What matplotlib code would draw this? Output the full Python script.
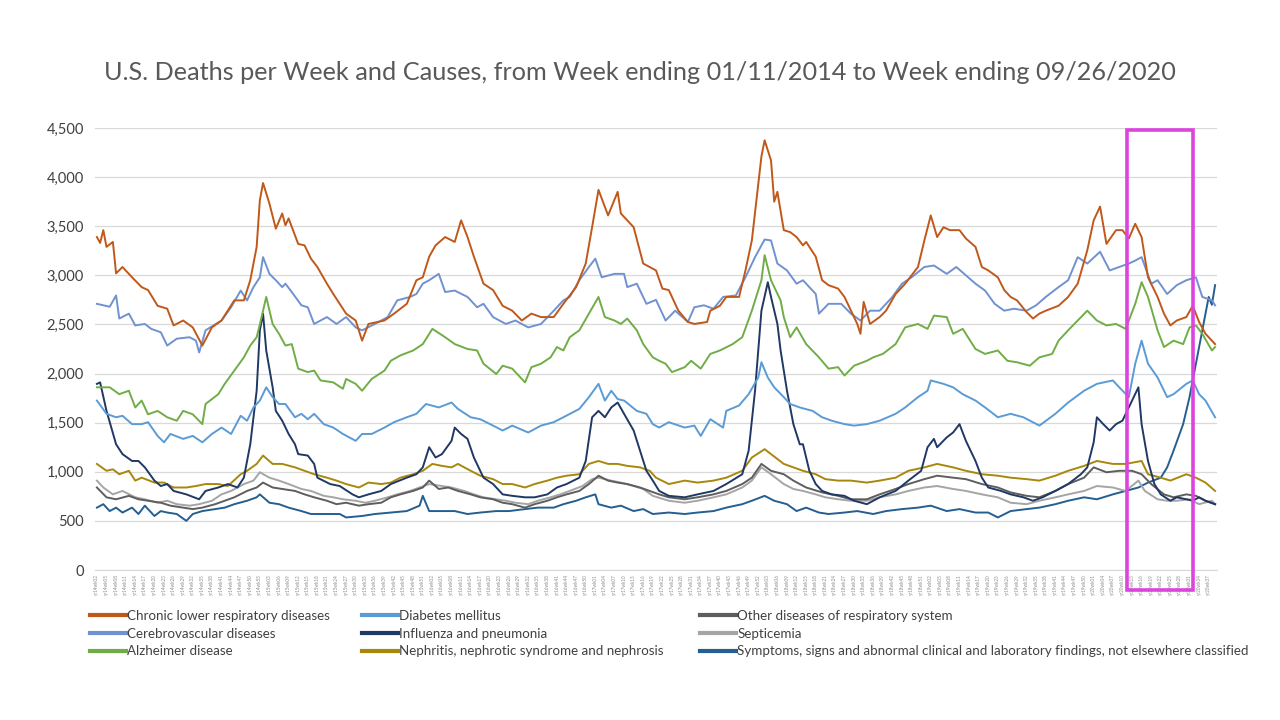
import matplotlib
matplotlib.use("Agg")
import matplotlib.pyplot as plt
from matplotlib.lines import Line2D
from matplotlib.patches import Rectangle
from matplotlib.ticker import MultipleLocator, StrMethodFormatter

plt.rcParams['font.family'] = ['Lato', 'DejaVu Sans']

# weekly category labels, MMWR weeks 2014wk02 .. 2020wk39
week_labels = []
for yr, first, last in [(14, 2, 53), (15, 1, 52), (16, 1, 52), (17, 1, 52),
                        (18, 1, 52), (19, 1, 52), (20, 1, 39)]:
    week_labels += ["yr%02dwk%02d" % (yr, w) for w in range(first, last + 1)]

# values: week index (0 = yr14wk02) and deaths
clrd_wk = [0, 1, 2, 3, 5, 6, 8, 11, 14, 16, 19, 22, 24, 27, 30, 33, 36, 39, 43, 46, 48, 50, 51, 52, 54, 56, 58, 59, 60, 63,
           65, 67, 69, 72, 74, 76, 78, 81, 83, 85, 90, 93, 97, 100, 102, 104, 106, 109, 112, 114, 116, 118, 121, 124, 127,
           130, 133, 136, 139, 143, 146, 150, 153, 155, 157, 160, 163, 164, 168, 171, 173, 175, 177, 179, 182, 185, 187,
           191, 192, 195, 197, 201, 203, 205, 208, 209, 211, 212, 213, 215, 217, 219, 221, 222, 225, 227, 229, 232, 234,
           237, 238, 239, 240, 242, 245, 247, 250, 253, 257, 259, 261, 263, 265, 267, 270, 272, 275, 277, 279, 282, 284,
           286, 288, 291, 293, 295, 297, 301, 304, 307, 310, 312, 314, 316, 319, 321, 323, 325, 327, 329, 332, 334, 336,
           338, 341, 343, 345, 347, 350]
clrd_val = [3390, 3330, 3460, 3290, 3340, 3020, 3085, 2980, 2880, 2850, 2690, 2660, 2490, 2540, 2470, 2285, 2470, 2540,
            2745, 2745, 2950, 3290, 3765, 3940, 3730, 3475, 3630, 3510, 3580, 3320, 3305, 3170, 3085, 2915, 2810, 2710,
            2610, 2540, 2335, 2505, 2540, 2610, 2710, 2950, 2980, 3190, 3305, 3390, 3340, 3560, 3390, 3190, 2915, 2850,
            2690, 2640, 2540, 2610, 2575, 2575, 2710, 2880, 3120, 3490, 3870, 3610, 3850, 3630, 3490, 3120, 3085, 3050,
            2865, 2850, 2640, 2525, 2505, 2525, 2640, 2690, 2780, 2780, 3050, 3355, 4210, 4375, 4170, 3750, 3850, 3460,
            3440, 3390, 3305, 3340, 3190, 2950, 2900, 2865, 2780, 2575, 2505, 2405, 2730, 2505, 2575, 2640, 2810, 2915,
            3085, 3355, 3610, 3390, 3490, 3460, 3460, 3375, 3290, 3085, 3050, 2980, 2850, 2780, 2745, 2625, 2560, 2610,
            2640, 2690, 2780, 2915, 3255, 3560, 3700, 3320, 3460, 3460, 3375, 3525, 3390, 2980, 2780, 2610, 2490, 2540,
            2575, 2690, 2525, 2405, 2300]

cerebro_wk = [0, 4, 6, 7, 10, 12, 15, 17, 20, 22, 25, 29, 31, 32, 34, 39, 42, 45, 47, 49, 51, 52, 54, 56, 58, 59, 61, 64,
              66, 68, 72, 75, 78, 81, 83, 87, 91, 94, 98, 100, 102, 104, 107, 109, 112, 116, 119, 121, 124, 128, 131, 135,
              139, 143, 146, 148, 151, 154, 156, 158, 162, 165, 166, 169, 172, 175, 178, 181, 185, 187, 190, 193, 196,
              200, 203, 206, 209, 211, 213, 216, 219, 221, 225, 226, 229, 233, 236, 239, 242, 245, 249, 252, 255, 259,
              262, 266, 269, 272, 275, 278, 281, 284, 287, 291, 294, 297, 301, 304, 307, 310, 314, 317, 320, 323, 325,
              327, 330, 332, 335, 338, 341, 344, 346, 349, 350]
cerebro_val = [2710, 2680, 2795, 2560, 2610, 2490, 2505, 2455, 2420, 2285, 2355, 2370, 2335, 2215, 2440, 2540, 2675, 2845,
               2745, 2880, 2980, 3185, 3015, 2950, 2880, 2915, 2830, 2695, 2675, 2505, 2575, 2505, 2575, 2470, 2440, 2505,
               2575, 2745, 2780, 2810, 2915, 2950, 3015, 2830, 2845, 2780, 2675, 2710, 2575, 2505, 2540, 2470, 2505, 2640,
               2745, 2780, 2950, 3085, 3170, 2980, 3015, 3015, 2880, 2915, 2710, 2750, 2540, 2640, 2525, 2675, 2695, 2660,
               2780, 2795, 2980, 3185, 3365, 3355, 3120, 3050, 2915, 2950, 2810, 2610, 2710, 2710, 2610, 2540, 2640, 2640,
               2780, 2915, 2980, 3085, 3100, 3015, 3085, 3000, 2915, 2845, 2710, 2640, 2660, 2640, 2695, 2780, 2880, 2950,
               3185, 3120, 3240, 3050, 3085, 3120, 3150, 3185, 2915, 2950, 2810, 2900, 2950, 2980, 2780, 2745, 2695]

alz_wk = [0, 4, 7, 10, 12, 14, 16, 19, 22, 25, 27, 30, 33, 34, 38, 40, 43, 46, 48, 50, 51, 53, 55, 57, 59, 61, 63, 66, 68,
          70, 74, 77, 78, 81, 83, 86, 90, 92, 95, 99, 102, 105, 109, 112, 116, 119, 121, 125, 127, 130, 134, 136, 139,
          142, 144, 146, 148, 151, 154, 157, 159, 162, 164, 166, 169, 171, 174, 176, 178, 180, 184, 186, 189, 192, 195,
          199, 202, 205, 208, 209, 211, 214, 215, 217, 219, 222, 226, 229, 232, 234, 237, 241, 243, 246, 250, 253, 257,
          260, 262, 266, 268, 271, 275, 278, 282, 285, 288, 292, 295, 299, 301, 304, 307, 310, 313, 316, 319, 322, 325,
          327, 329, 332, 334, 337, 340, 342, 344, 346, 349, 350]
alz_val = [1860, 1860, 1790, 1825, 1655, 1725, 1585, 1620, 1555, 1520, 1620, 1585, 1485, 1690, 1790, 1895, 2030, 2165,
           2285, 2370, 2500, 2780, 2505, 2405, 2285, 2300, 2050, 2015, 2030, 1930, 1910, 1845, 1945, 1895, 1825, 1945,
           2030, 2130, 2185, 2235, 2300, 2455, 2370, 2300, 2250, 2235, 2100, 1995, 2080, 2050, 1910, 2065, 2100, 2165,
           2270, 2235, 2370, 2440, 2610, 2780, 2575, 2540, 2505, 2560, 2440, 2300, 2165, 2130, 2100, 2015, 2065, 2130,
           2050, 2200, 2235, 2300, 2370, 2640, 2950, 3205, 2950, 2745, 2575, 2370, 2470, 2300, 2165, 2050, 2065, 1980,
           2080, 2130, 2165, 2200, 2300, 2470, 2505, 2455, 2590, 2575, 2405, 2455, 2250, 2200, 2235, 2130, 2115, 2080,
           2165, 2200, 2335, 2440, 2540, 2640, 2540, 2490, 2505, 2455, 2710, 2930, 2780, 2440, 2270, 2335, 2300, 2470,
           2490, 2405, 2235, 2270]

diab_wk = [0, 3, 6, 8, 11, 14, 16, 19, 21, 23, 27, 30, 33, 36, 39, 42, 45, 47, 49, 51, 53, 55, 57, 59, 62, 64, 66, 68, 71,
           74, 77, 81, 83, 86, 90, 93, 97, 100, 103, 107, 111, 113, 117, 120, 124, 127, 130, 135, 139, 143, 146, 151, 154,
           157, 159, 161, 163, 165, 169, 172, 174, 176, 179, 184, 187, 189, 192, 196, 197, 201, 204, 207, 208, 210, 212,
           215, 217, 220, 224, 227, 230, 234, 237, 241, 245, 250, 253, 257, 260, 261, 265, 268, 271, 275, 278, 282, 286,
           290, 295, 300, 304, 309, 313, 318, 320, 323, 325, 327, 329, 332, 335, 337, 341, 343, 345, 347, 350]
diab_val = [1725, 1590, 1555, 1570, 1485, 1485, 1505, 1365, 1300, 1385, 1335, 1365, 1300, 1385, 1450, 1385, 1570, 1520,
            1655, 1725, 1860, 1760, 1690, 1690, 1555, 1590, 1535, 1590, 1485, 1450, 1385, 1315, 1385, 1385, 1450, 1505,
            1555, 1590, 1690, 1655, 1705, 1640, 1555, 1535, 1470, 1420, 1470, 1400, 1470, 1505, 1555, 1640, 1760, 1895,
            1725, 1825, 1740, 1725, 1620, 1590, 1485, 1450, 1505, 1450, 1470, 1365, 1535, 1450, 1620, 1675, 1790, 1960,
            2115, 1960, 1860, 1760, 1690, 1655, 1620, 1555, 1520, 1485, 1470, 1485, 1520, 1590, 1655, 1760, 1825, 1930,
            1895, 1860, 1790, 1725, 1655, 1555, 1590, 1555, 1470, 1590, 1705, 1825, 1895, 1930, 1860, 1760, 2100, 2335,
            2100, 1960, 1760, 1790, 1895, 1930, 1790, 1725, 1555]

flu_wk = [0, 1, 3, 6, 8, 11, 13, 15, 18, 20, 22, 24, 28, 32, 34, 38, 41, 44, 46, 48, 50, 51, 52, 53, 55, 56, 58, 60, 62,
          63, 66, 68, 69, 73, 76, 80, 82, 85, 89, 92, 97, 100, 102, 104, 106, 108, 111, 112, 114, 116, 118, 121, 124, 127,
          130, 134, 137, 141, 144, 147, 151, 153, 155, 157, 159, 161, 163, 165, 168, 170, 172, 174, 176, 179, 184, 188,
          193, 197, 202, 204, 206, 208, 210, 211, 213, 214, 216, 218, 220, 221, 223, 225, 227, 230, 234, 237, 241, 245,
          250, 254, 258, 260, 262, 263, 266, 268, 270, 272, 275, 277, 279, 283, 286, 290, 293, 296, 300, 304, 308, 310,
          312, 313, 315, 317, 319, 321, 323, 326, 327, 329, 331, 333, 336, 338, 341, 343, 345, 347, 350]
flu_val = [1895, 1910, 1620, 1280, 1180, 1110, 1110, 1045, 910, 855, 875, 805, 770, 720, 805, 840, 875, 840, 940, 1280,
           1825, 2440, 2610, 2235, 1860, 1620, 1520, 1385, 1280, 1180, 1165, 1080, 940, 875, 855, 770, 740, 770, 805, 875,
           940, 975, 1045, 1250, 1145, 1180, 1315, 1450, 1385, 1335, 1145, 940, 875, 770, 755, 740, 740, 770, 840, 875,
           940, 1110, 1555, 1620, 1555, 1655, 1705, 1590, 1420, 1215, 1010, 910, 805, 755, 740, 770, 805, 875, 975, 1215,
           1825, 2640, 2930, 2780, 2505, 2235, 1825, 1485, 1280, 1280, 1010, 875, 805, 770, 755, 705, 670, 740, 805, 910,
           1010, 1250, 1335, 1250, 1350, 1400, 1485, 1315, 1110, 940, 840, 805, 770, 740, 705, 740, 805, 875, 975, 1045,
           1300, 1555, 1485, 1420, 1485, 1520, 1655, 1860, 1485, 1110, 875, 770, 705, 740, 720, 705, 740, 705, 670]

neph_wk = [0, 3, 5, 7, 10, 12, 14, 18, 21, 24, 28, 31, 34, 38, 41, 45, 47, 50, 52, 55, 58, 62, 65, 68, 72, 75, 78, 82, 85,
           89, 92, 95, 99, 102, 105, 108, 111, 113, 117, 120, 124, 127, 130, 134, 137, 141, 144, 147, 151, 154, 157, 160,
           163, 166, 170, 173, 175, 179, 184, 188, 193, 197, 202, 205, 209, 211, 215, 218, 221, 225, 228, 232, 236, 241,
           245, 250, 254, 259, 263, 268, 272, 277, 282, 286, 291, 295, 300, 304, 309, 313, 318, 322, 327, 329, 333, 336,
           341, 344, 347, 350]
neph_val = [1080, 1010, 1025, 975, 1010, 910, 940, 890, 890, 840, 840, 855, 875, 875, 855, 975, 1010, 1080, 1165, 1080,
            1080, 1045, 1010, 975, 940, 910, 875, 840, 890, 875, 890, 940, 975, 1010, 1080, 1060, 1045, 1080, 1010, 960,
            925, 875, 875, 840, 875, 910, 940, 960, 975, 1080, 1110, 1080, 1080, 1060, 1045, 1010, 940, 875, 910, 890,
            910, 940, 1010, 1145, 1230, 1180, 1080, 1045, 1010, 975, 925, 910, 910, 890, 910, 940, 1010, 1045, 1080,
            1045, 1010, 975, 960, 940, 925, 910, 960, 1010, 1060, 1110, 1080, 1080, 1110, 975, 940, 910, 975, 940, 890,
            805]

other_wk = [0, 3, 6, 10, 13, 16, 20, 23, 27, 30, 33, 37, 40, 43, 47, 50, 52, 55, 58, 62, 65, 68, 72, 75, 78, 82, 85, 89,
            92, 95, 99, 102, 104, 107, 110, 113, 117, 120, 124, 127, 130, 134, 137, 141, 144, 147, 151, 154, 157, 160,
            163, 166, 170, 173, 176, 179, 184, 188, 193, 197, 202, 205, 208, 211, 215, 218, 222, 227, 232, 236, 241, 245,
            250, 254, 259, 263, 268, 272, 277, 282, 286, 291, 295, 300, 304, 309, 312, 316, 320, 324, 327, 330, 334, 337,
            341, 344, 347, 350]
other_val = [840, 740, 720, 755, 720, 705, 685, 655, 635, 620, 635, 670, 705, 740, 805, 840, 890, 840, 825, 805, 770, 740,
             705, 670, 685, 655, 670, 685, 740, 770, 805, 840, 910, 825, 840, 805, 770, 740, 720, 685, 670, 635, 670, 705,
             740, 770, 805, 875, 960, 910, 890, 875, 840, 805, 770, 740, 720, 740, 770, 805, 875, 940, 1080, 1010, 975,
             910, 840, 790, 755, 720, 720, 770, 825, 875, 925, 960, 940, 925, 875, 840, 790, 755, 740, 805, 875, 940, 1045,
             995, 1010, 1010, 975, 875, 770, 740, 770, 755, 705, 670]

sept_wk = [0, 2, 5, 8, 12, 15, 19, 22, 25, 29, 32, 36, 39, 42, 46, 49, 51, 54, 57, 60, 64, 67, 71, 74, 77, 81, 84, 87, 91,
           94, 98, 101, 104, 108, 111, 115, 118, 121, 125, 128, 131, 135, 138, 142, 145, 148, 152, 155, 157, 161, 164,
           168, 171, 174, 179, 184, 188, 193, 197, 202, 205, 208, 211, 215, 218, 221, 225, 228, 232, 236, 241, 245, 250,
           254, 259, 263, 268, 272, 277, 282, 286, 291, 295, 300, 304, 309, 313, 318, 322, 326, 328, 332, 335, 338, 342,
           345, 349, 350]
sept_val = [910, 840, 770, 805, 740, 720, 685, 705, 670, 655, 670, 705, 770, 805, 875, 910, 995, 940, 910, 875, 825, 805,
            755, 740, 720, 705, 685, 705, 740, 770, 805, 840, 875, 855, 840, 805, 770, 740, 720, 705, 685, 670, 705, 740,
            770, 805, 855, 925, 940, 910, 890, 855, 825, 755, 705, 685, 705, 740, 770, 840, 910, 1045, 975, 875, 825, 805,
            770, 740, 720, 705, 705, 740, 770, 805, 840, 855, 825, 805, 770, 740, 685, 670, 705, 740, 770, 805, 855, 840,
            805, 910, 805, 720, 705, 705, 720, 670, 705, 670]

symp_wk = [0, 2, 4, 6, 8, 11, 13, 15, 18, 20, 22, 25, 28, 30, 33, 37, 40, 43, 47, 50, 51, 54, 57, 60, 64, 67, 72, 76, 78,
           83, 87, 92, 97, 101, 102, 104, 109, 112, 116, 120, 125, 129, 134, 138, 143, 146, 150, 153, 156, 157, 161, 164,
           168, 171, 174, 179, 184, 188, 193, 197, 202, 205, 209, 212, 216, 219, 222, 226, 229, 234, 238, 243, 247, 252,
           257, 261, 266, 270, 275, 279, 282, 286, 291, 295, 300, 304, 309, 313, 318, 322, 326, 329, 333, 335, 337, 340,
           342, 344, 346, 348, 349, 350]
symp_val = [635, 670, 600, 635, 585, 635, 570, 655, 550, 600, 585, 570, 500, 570, 600, 620, 635, 670, 705, 740, 770, 685,
            670, 635, 600, 570, 570, 570, 535, 550, 570, 585, 600, 655, 755, 600, 600, 600, 570, 585, 600, 600, 620, 635,
            635, 670, 705, 740, 770, 670, 635, 655, 600, 620, 570, 585, 570, 585, 600, 635, 670, 705, 755, 705, 670, 600,
            635, 585, 570, 585, 600, 570, 600, 620, 635, 655, 600, 620, 585, 585, 535, 600, 620, 635, 670, 705, 740, 720,
            770, 805, 840, 890, 940, 1045, 1215, 1485, 1760, 2100, 2440, 2780, 2700, 2900]

series = [
    ("Chronic lower respiratory diseases", "#C0581A", clrd_wk, clrd_val),
    ("Cerebrovascular diseases", "#7092D0", cerebro_wk, cerebro_val),
    ("Alzheimer disease", "#70AD47", alz_wk, alz_val),
    ("Diabetes mellitus", "#5B9BD5", diab_wk, diab_val),
    ("Influenza and pneumonia", "#203864", flu_wk, flu_val),
    ("Nephritis, nephrotic syndrome and nephrosis", "#A8880C", neph_wk, neph_val),
    ("Other diseases of respiratory system", "#5E5E5E", other_wk, other_val),
    ("Septicemia", "#A5A5A5", sept_wk, sept_val),
    ("Symptoms, signs and abnormal clinical and laboratory findings, not elsewhere classified", "#255E91",
     symp_wk, symp_val),
]

# highlighted span (2020 wk11 .. wk32)
highlight_from = week_labels.index("yr20wk11") + 0.5
highlight_to = week_labels.index("yr20wk32") + 0.1

fig = plt.figure(figsize=(12.8, 7.2), dpi=100)
ax = fig.add_axes([95 / 1280, 1 - 570 / 720, 1122 / 1280, 442 / 720])

# draw back to front so the lower lines sit on top like the original
for name, color, wk, val in reversed(series):
    ax.plot(wk, val, color=color, lw=1.4, solid_joinstyle="round")

ax.set_xlim(-0.6, len(week_labels) - 0.4)
ax.set_ylim(0, 4500)
ax.yaxis.set_major_locator(MultipleLocator(500))
ax.yaxis.set_major_formatter(StrMethodFormatter("{x:,.0f}"))
ax.grid(axis="y", color="#D9D9D9", lw=0.9)
ax.set_axisbelow(True)
for s in ["top", "right", "left"]:
    ax.spines[s].set_visible(False)
ax.spines["bottom"].set_color("#D9D9D9")

ticks = list(range(0, len(week_labels), 3))
ax.set_xticks(ticks)
ax.set_xticklabels([week_labels[t] for t in ticks], rotation=90, fontsize=3.3, color="#8C8C8C")
ax.tick_params(axis="x", length=0, pad=3)
ax.tick_params(axis="y", length=0, pad=8, labelsize=10.5, labelcolor="#404040")

ax.add_patch(Rectangle((highlight_from, -205), highlight_to - highlight_from, 4685, fill=False,
                       ec="#DD44DD", lw=2.6, clip_on=False, zorder=10))

fig.text(0.5, 1 - 73 / 720, "U.S. Deaths per Week and Causes, from Week ending 01/11/2014 to Week ending 09/26/2020",
         ha="center", va="center", fontsize=18.2, color="#595959")

# legend in three columns
col_x = [90, 362, 700]
for c in range(3):
    handles = [Line2D([], [], color=s[1], lw=3) for s in series[c * 3:c * 3 + 3]]
    labels = [s[0] for s in series[c * 3:c * 3 + 3]]
    leg = fig.legend(handles, labels, loc="upper left", bbox_to_anchor=(col_x[c] / 1280, 1 - 610 / 720),
                     frameon=False, fontsize=9.6, handlelength=2.7, handletextpad=0.1, labelspacing=0.42,
                     borderpad=0, borderaxespad=0, labelcolor="#404040")

fig.savefig("out.png", dpi=100)
